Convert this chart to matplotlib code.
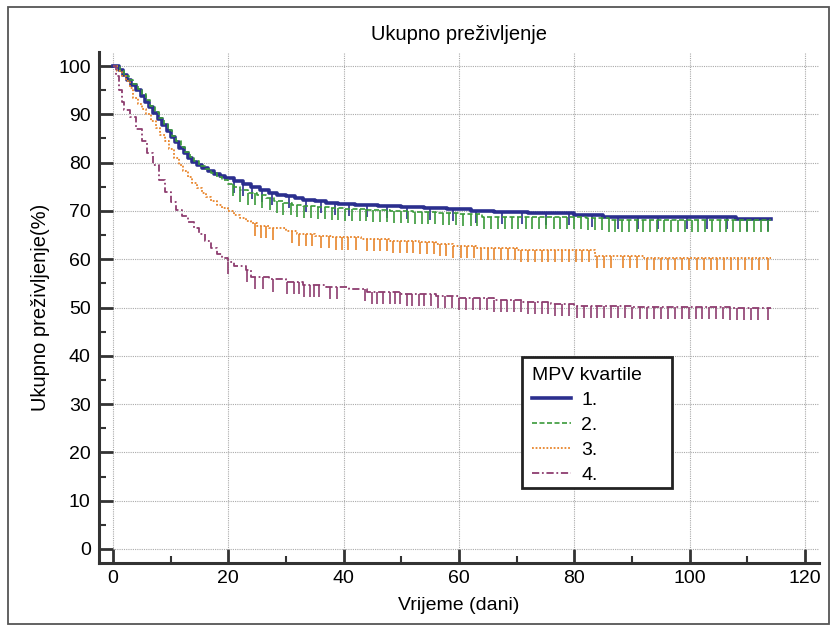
import numpy as np
import matplotlib
matplotlib.use("Agg")
import matplotlib.pyplot as plt
from matplotlib.lines import Line2D
from matplotlib.patches import Rectangle
from matplotlib.ticker import MultipleLocator

plt.rcParams['font.family'] = ['Liberation Sans', 'DejaVu Sans']

title = "Ukupno preživljenje"
xlabel = "Vrijeme (dani)"
ylabel = "Ukupno preživljenje(%)"
legend_title = "MPV kvartile"
labels = ["1.", "2.", "3.", "4."]
end_time = 114.1

# Group 1
t1 = [0, 1.0, 1.8, 2.5, 3.2, 4.0, 4.8, 5.5, 6.3, 7.0, 7.8, 8.5, 9.3, 10.0, 10.8, 11.5, 12.3, 13.0,
      13.8, 14.6, 15.5, 16.5, 17.5, 18.5, 19.5, 21.0, 22.5, 24.0, 25.5, 27.0, 28.5, 30.0, 31.5, 33.0,
      35.0, 37.0, 39.0, 42.0, 46.0, 50.0, 54.0, 58.0, 62.0, 66.0, 72.0, 80.0, 85.0, 108.0]
s1 = [100, 99.2, 98.2, 97.0, 96.0, 95.0, 93.8, 92.6, 91.5, 90.2, 89.0, 87.8, 86.6, 85.4, 84.2, 83.0,
      82.0, 81.0, 80.2, 79.5, 78.8, 78.2, 77.7, 77.2, 76.8, 76.2, 75.6, 75.0, 74.4, 73.8, 73.3, 73.0,
      72.7, 72.3, 72.0, 71.7, 71.5, 71.2, 71.0, 70.8, 70.6, 70.4, 70.0, 69.7, 69.5, 69.2, 68.7, 68.3]
c1 = [21.0, 22.5, 24.2, 25.8, 27.5, 30.5, 33.5, 36.0, 38.5, 41.0, 44.0, 47.5, 51.0, 55.0, 59.0, 63.0,
      67.5, 71.0, 75.0, 79.0, 83.0, 87.5, 91.0, 94.5, 99.5, 103.0, 106.5, 110.0, 113.5]

# Group 2
t2 = [0, 1.2, 2.0, 2.8, 3.5, 4.3, 5.0, 5.8, 6.5, 7.3, 8.0, 8.8, 9.5, 10.3, 11.0, 11.8, 12.5, 13.3,
      14.0, 15.0, 16.0, 17.0, 18.0, 19.0, 20.0, 21.0, 22.0, 23.5, 25.0, 26.5, 28.0, 29.5, 31.0, 33.0,
      35.0, 37.5, 40.0, 44.0, 48.0, 52.0, 56.0, 60.0, 64.0, 82.0, 86.0]
s2 = [100, 99.0, 98.0, 97.0, 96.2, 95.3, 94.2, 93.0, 91.8, 90.5, 89.2, 88.0, 86.8, 85.6, 84.4, 83.2,
      82.2, 81.2, 80.3, 79.4, 78.6, 77.8, 77.0, 76.4, 75.6, 75.0, 74.4, 73.8, 73.2, 72.6, 72.1, 71.7,
      71.3, 71.0, 70.8, 70.6, 70.4, 70.2, 70.0, 69.8, 69.6, 69.4, 68.8, 68.5, 68.1]
c2 = [20.8, 22.0, 23.5, 24.6, 25.8, 27.2, 28.4, 29.5, 30.8, 32.0, 33.1, 34.3, 35.6, 36.8, 38.0, 39.1,
      40.3, 41.5, 42.8, 43.9, 45.1, 46.3, 47.6, 48.7, 49.9, 51.1, 52.4, 53.5, 54.7, 55.9, 57.2, 58.3,
      59.5, 60.7, 62.0, 63.1, 64.3, 65.5, 66.8, 67.9, 69.1, 70.3, 71.6, 72.7, 73.9, 75.1, 76.4, 77.5,
      78.7, 79.9, 81.2, 82.3, 83.5, 84.7, 86.0, 87.1, 88.3, 89.5, 90.8, 91.9, 93.1, 94.3, 95.6, 96.7,
      97.9, 99.1, 100.4, 101.5, 102.7, 103.9, 105.2, 106.3, 107.5, 108.7, 110.0, 111.1, 112.3, 113.6]

# Group 3
t3 = [0, 0.8, 1.5, 2.2, 2.9, 3.5, 4.3, 5.0, 5.8, 6.6, 7.4, 8.2, 9.0, 9.8, 10.6, 11.4, 12.2, 13.0,
      13.8, 14.6, 15.4, 16.2, 17.0, 18.0, 19.0, 20.0, 21.0, 22.0, 23.0, 24.0, 25.0, 27.0, 30.0, 32.0,
      35.0, 38.0, 43.0, 48.0, 53.0, 56.0, 59.0, 63.0, 70.0, 83.5, 92.0]
s3 = [100, 99.0, 98.0, 96.8, 95.4, 93.4, 92.2, 91.2, 90.0, 88.6, 87.2, 85.8, 84.4, 82.8, 81.0, 79.6,
      78.2, 77.0, 75.8, 74.8, 73.8, 72.9, 72.1, 71.3, 70.6, 69.9, 69.2, 68.6, 68.0, 67.4, 66.9, 66.4,
      65.8, 65.3, 64.9, 64.5, 64.2, 63.8, 63.5, 63.1, 62.8, 62.3, 61.9, 60.6, 60.2]
c3 = [24.7, 25.6, 26.6, 27.8, 31.0, 32.2, 33.4, 34.5, 36.0, 37.5, 38.7, 39.8, 40.8, 42.2, 44.0, 45.2,
      46.3, 47.5, 48.6, 49.8, 51.0, 52.1, 53.3, 54.4, 55.6, 56.7, 57.8, 59.0, 60.3, 61.4, 62.6, 63.8,
      65.0, 66.1, 67.3, 68.5, 69.7, 70.8, 72.0, 73.2, 74.3, 75.5, 76.6, 77.8, 79.0, 80.2, 81.3, 82.5,
      84.0, 85.2, 86.3, 88.5, 89.7, 90.8, 92.6, 93.8, 95.0, 96.3, 97.5, 98.7, 99.9, 101.2, 102.4, 103.6,
      104.8, 106.0, 107.2, 108.4, 109.6, 110.8, 112.0, 113.6]

# Group 4
t4 = [0, 0.5, 1.0, 1.5, 2.0, 3.0, 4.0, 5.0, 6.0, 7.0, 8.0, 9.0, 10.0, 11.0, 12.0, 13.0, 14.0, 15.0,
      16.0, 17.0, 18.0, 19.0, 20.0, 21.0, 23.0, 24.0, 27.0, 30.0, 33.0, 37.0, 41.0, 44.0, 50.0, 56.0,
      60.0, 66.0, 71.0, 76.0, 80.0, 90.0, 107.0]
s4 = [100, 98, 95, 92.5, 90.8, 89.5, 87, 84.5, 82, 79.5, 76.5, 74, 71.8, 70.2, 69, 67.8, 66.5, 65.3,
      63.8, 62.3, 61, 60.3, 59.5, 58.5, 57.8, 56.4, 55.8, 55.2, 54.6, 54.2, 53.8, 53.2, 52.8, 52.3,
      52, 51.5, 51.2, 50.8, 50.4, 50.2, 49.9]
c4 = [20.0, 23.2, 24.6, 26.0, 27.7, 30.2, 31.4, 32.3, 33.2, 34.1, 34.9, 35.8, 37.6, 38.8, 43.7, 44.9,
      45.8, 46.9, 48.1, 48.9, 49.8, 51.0, 51.8, 53.0, 54.0, 55.2, 56.4, 57.6, 58.8, 60.0, 61.2, 62.4,
      63.6, 64.8, 66.0, 67.2, 68.4, 69.5, 70.7, 71.9, 73.1, 74.3, 75.5, 76.7, 77.9, 79.0, 80.4, 81.6,
      82.8, 84.0, 85.2, 86.4, 87.6, 88.8, 90.0, 91.4, 92.6, 93.8, 95.0, 96.2, 97.4, 98.6, 99.8, 101.0,
      102.2, 103.4, 104.6, 105.8, 107.0, 108.2, 109.4, 110.6, 111.8, 113.6]

colors = ["#2B2F8E", "#3A9A3A", "#E8852B", "#8E3D6F"]
styles = ["-", (0, (3, 1.5)), (0, (1, 1)), (0, (4, 1.5, 1, 1.5))]
widths = [2.6, 1.2, 1.3, 1.3]
tick_len = 2.5

fig = plt.figure(figsize=(8.36, 6.31), dpi=100)
fig.patches.append(Rectangle((8 / 836, 1 - 624 / 631), 821 / 836, 617 / 631,
                             transform=fig.transFigure, fill=False,
                             edgecolor="#555555", linewidth=1.3))
ax = fig.add_axes([99 / 836, 68 / 631, 720 / 836, 511 / 631])

series = [(t1, s1, c1), (t2, s2, c2), (t3, s3, c3), (t4, s4, c4)]
for i, (t, s, c) in enumerate(series):
    tt = np.array(t + [end_time])
    ss = np.array(s + [s[-1]])
    ax.step(tt, ss, where="post", color=colors[i], linestyle=styles[i],
            linewidth=widths[i], zorder=3 + i)
    ct = np.array(c)
    idx = np.searchsorted(tt, ct, side="right") - 1
    sv = ss[idx]
    ax.vlines(ct, sv - tick_len, sv, color=colors[i], linewidth=1.2, zorder=3 + i)

ax.set_xlim(-2.4, 122.4)
ax.set_ylim(-2.9, 102.9)
ax.xaxis.set_major_locator(MultipleLocator(20))
ax.xaxis.set_minor_locator(MultipleLocator(10))
ax.yaxis.set_major_locator(MultipleLocator(10))
ax.yaxis.set_minor_locator(MultipleLocator(5))
ax.grid(True, which="major", color="#AAAAAA", linestyle=(0, (1, 1)), linewidth=0.8, zorder=0)
for sp in ["top", "right"]:
    ax.spines[sp].set_visible(False)
for sp in ["left", "bottom"]:
    ax.spines[sp].set_linewidth(2.2)
    ax.spines[sp].set_color("#333333")
ax.tick_params(which="major", direction="in", length=10, width=2.0, color="#333333",
               labelsize=14, pad=6)
ax.tick_params(which="minor", direction="in", length=5, width=1.5, color="#333333")
ax.tick_params(axis="x", which="major", pad=5)

ax.set_title(title, fontsize=14.5, pad=8.5)
ax.set_xlabel(xlabel, fontsize=14, labelpad=7)
ax.set_ylabel(ylabel, fontsize=14.5, labelpad=6)

handles = [Line2D([], [], color=colors[i], linestyle=styles[i], linewidth=widths[i])
           for i in range(4)]
leg = ax.legend(handles, labels, title=legend_title, loc="upper left",
                bbox_to_anchor=(522 / 836, 1 - 357 / 631), bbox_transform=fig.transFigure,
                fontsize=14, title_fontsize=14, frameon=False, borderaxespad=0,
                handlelength=2.0, handletextpad=0.55, labelspacing=0.38, borderpad=0.5,
                alignment="left")
fig.patches.append(Rectangle((522 / 836, 1 - 488 / 631), 150 / 836, 131 / 631,
                             transform=fig.transFigure, fill=True, facecolor="white",
                             edgecolor="#222222", linewidth=2.0, zorder=9))
leg.remove()
fig.legends.append(leg)
leg.set_figure(fig)
leg.set_zorder(10)

fig.savefig("out.png", dpi=100)
